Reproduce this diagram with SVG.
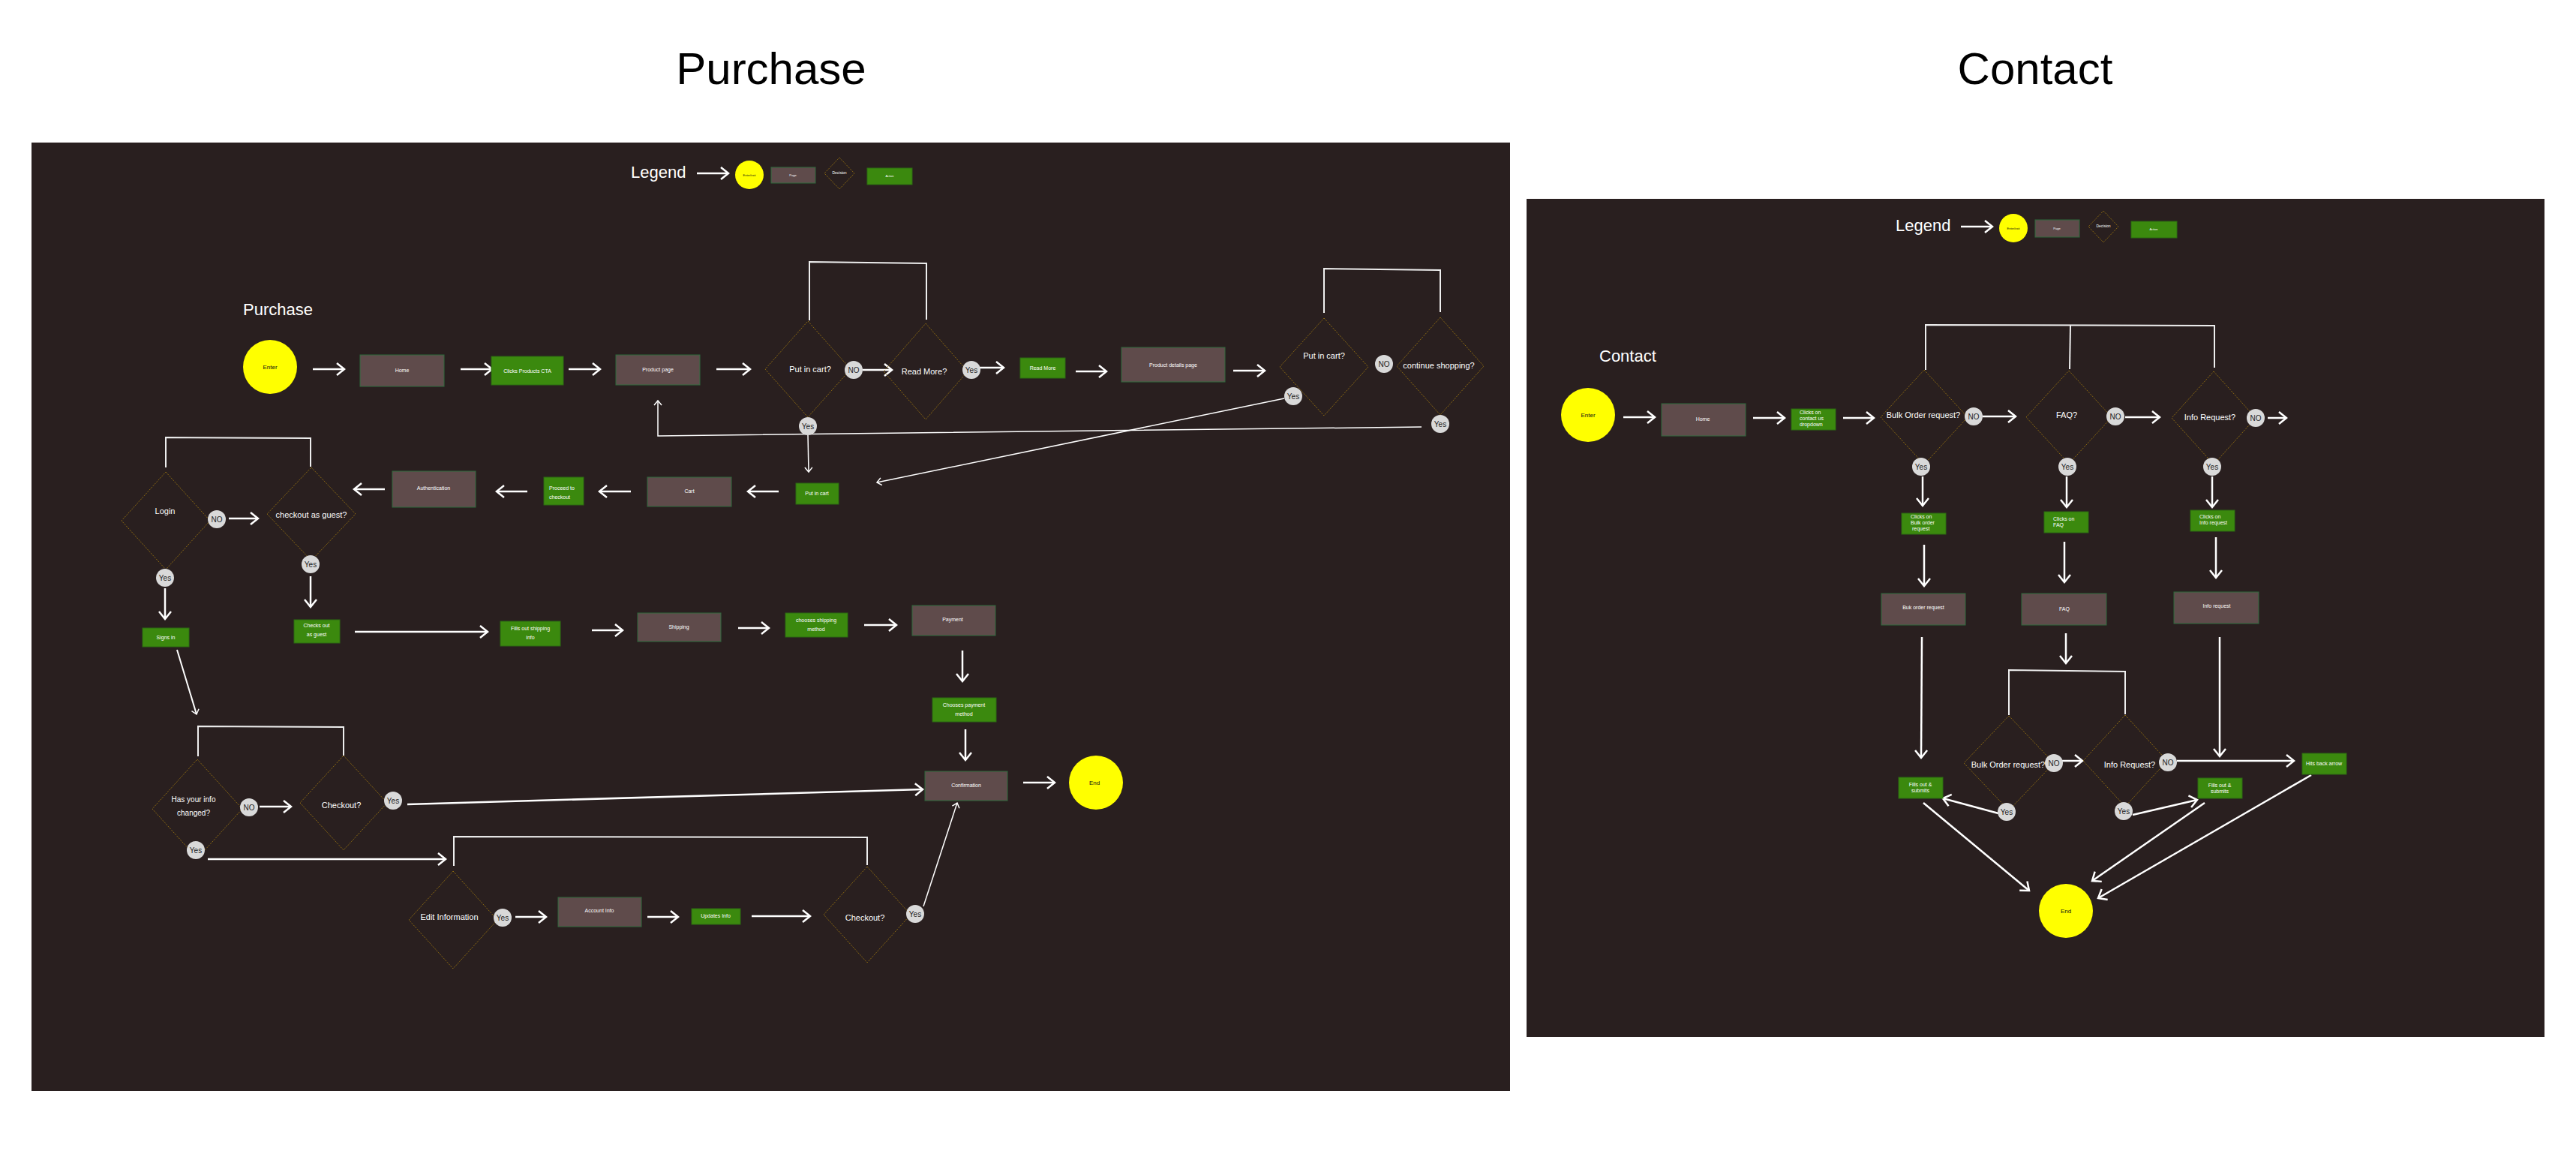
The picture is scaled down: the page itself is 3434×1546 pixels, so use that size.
<svg xmlns="http://www.w3.org/2000/svg" width="3434" height="1546" viewBox="0 0 3434 1546">
<style>
text{font-family:"Liberation Sans",Arial,sans-serif}
.bg{fill:#291f1f}
.page{fill:#5f4b4b;stroke:#2e6b3c;stroke-width:1}
.act{fill:#3b890e;stroke:#2c6a12;stroke-width:1}
.dec{fill:none;stroke:#8c6a12;stroke-width:1;stroke-dasharray:2 1.5}
.term{fill:#ffff00}
.yn{fill:#d9d9d9}
.lbl{fill:#fff;font-size:7px;text-anchor:middle}
.lbll{fill:#fff;font-size:7px}
.dl{fill:#fff;font-size:11px;text-anchor:middle}
.tl{fill:#111;font-size:8px;text-anchor:middle}
.ynl{fill:#222;font-size:10px;text-anchor:middle}
.c{stroke:#fff;stroke-width:2.5;fill:none;marker-end:url(#ah)}
.cs{stroke:#fff;stroke-width:1.5;fill:none;marker-end:url(#ahs)}
.br{stroke:#eee;stroke-width:2;fill:none}
.title{fill:#000;font-size:60px;text-anchor:middle}
.sub{fill:#fff;font-size:22px}
.tiny{font-size:4px;text-anchor:middle}
</style>
<defs>
<marker id="ah" markerUnits="userSpaceOnUse" markerWidth="14" markerHeight="20" refX="10" refY="8" orient="auto" overflow="visible"><path d="M0,0 L10,8 L0,16" fill="none" stroke="#fff" stroke-width="2.5"/></marker>
<marker id="ahs" markerUnits="userSpaceOnUse" markerWidth="10" markerHeight="12" refX="6" refY="5" orient="auto" overflow="visible"><path d="M0,0 L6,5 L0,10" fill="none" stroke="#fff" stroke-width="1.5"/></marker>
</defs>
<rect width="3434" height="1546" fill="#fff"/>
<text class="title" x="1028" y="112">Purchase</text>
<text class="title" x="2713" y="112">Contact</text>
<rect class="bg" x="42" y="190" width="1971" height="1264"/>
<rect class="bg" x="2035" y="265" width="1357" height="1117"/>

<g id="legend-purchase">
<text class="sub" x="841" y="237">Legend</text>
<line class="c" x1="929" y1="231" x2="971" y2="231"/>
<circle class="term" cx="999" cy="233" r="19"/><text class="tiny" x="999" y="234.5" fill="#111">Enter/exit</text>
<rect class="page" x="1028" y="223" width="59" height="21"/><text class="tiny" x="1057" y="235" fill="#fff">Page</text>
<polygon class="dec" points="1119,210 1139,231 1119,252 1099,231"/><text class="tiny" x="1119" y="232" fill="#fff" style="font-size:5px">Decision</text>
<rect class="act" x="1156" y="224" width="60" height="22"/><text class="tiny" x="1186" y="236" fill="#fff">Action</text>
</g>
<g id="legend-contact">
<text class="sub" x="2527" y="308">Legend</text>
<line class="c" x1="2614" y1="302" x2="2656" y2="302"/>
<circle class="term" cx="2684" cy="304" r="19"/><text class="tiny" x="2684" y="305.5" fill="#111">Enter/exit</text>
<rect class="page" x="2713" y="293" width="59" height="23"/><text class="tiny" x="2742" y="306" fill="#fff">Page</text>
<polygon class="dec" points="2804,281 2824,302 2804,323 2784,302"/><text class="tiny" x="2804" y="303" fill="#fff" style="font-size:5px">Decision</text>
<rect class="act" x="2841" y="295" width="61" height="22"/><text class="tiny" x="2871" y="307" fill="#fff">Action</text>
</g>
<text class="sub" x="324" y="420">Purchase</text>
<text class="sub" x="2132" y="482">Contact</text>

<g id="connectors">
<line class="c" x1="417" y1="492" x2="459" y2="492"/>
<line class="c" x1="614" y1="492" x2="656" y2="492"/>
<line class="c" x1="758" y1="492" x2="800" y2="492"/>
<line class="c" x1="955" y1="492" x2="1000" y2="492"/>
<polyline class="br" points="1079,427 1079,349 1235,351 1235,426"/>
<line class="c" x1="1150" y1="493" x2="1189" y2="493"/>
<line class="c" x1="1306" y1="490" x2="1338" y2="490"/>
<line class="c" x1="1434" y1="495" x2="1475" y2="495"/>
<line class="c" x1="1644" y1="494" x2="1686" y2="494"/>
<polyline class="br" points="1765,417 1765,358 1920,360 1920,416"/>
<polyline class="cs" points="1895,569 877,581 877,534"/>
<line class="cs" x1="1712" y1="531" x2="1169" y2="643"/>
<line class="cs" x1="1077" y1="580" x2="1078" y2="629"/>
<line class="c" x1="1038" y1="655" x2="997" y2="655"/>
<line class="c" x1="841" y1="655" x2="799" y2="655"/>
<line class="c" x1="703" y1="655" x2="662" y2="655"/>
<line class="c" x1="513" y1="652" x2="472" y2="652"/>
<polyline class="br" points="221,623 221,583 414,584 414,622"/>
<line class="c" x1="305" y1="691" x2="344" y2="691"/>
<line class="c" x1="414" y1="768" x2="414" y2="809"/>
<line class="c" x1="220" y1="784" x2="220" y2="825"/>
<line class="c" x1="473" y1="842" x2="650" y2="842"/>
<line class="c" x1="789" y1="840" x2="830" y2="840"/>
<line class="c" x1="984" y1="837" x2="1025" y2="837"/>
<line class="c" x1="1152" y1="833" x2="1195" y2="833"/>
<line class="c" x1="1283" y1="867" x2="1283" y2="908"/>
<line class="c" x1="1287" y1="972" x2="1287" y2="1013"/>
<line class="c" x1="1364" y1="1043" x2="1406" y2="1043"/>
<line class="cs" x1="236" y1="866" x2="262" y2="952" style="stroke-width:2"/>
<polyline class="br" points="264,1008 264,968 458,969 458,1007"/>
<line class="c" x1="346" y1="1075" x2="388" y2="1075"/>
<line class="c" x1="543" y1="1072" x2="1230" y2="1052"/>
<line class="c" x1="277" y1="1145" x2="594" y2="1145"/>
<polyline class="br" points="605,1154 605,1115 1156,1116 1156,1153"/>
<line class="c" x1="687" y1="1222" x2="728" y2="1222"/>
<line class="c" x1="863" y1="1222" x2="904" y2="1222"/>
<line class="c" x1="1002" y1="1221" x2="1080" y2="1221"/>
<line class="cs" x1="1231" y1="1208" x2="1276" y2="1070"/>

<line class="c" x1="2164" y1="556" x2="2206" y2="556"/>
<line class="c" x1="2337" y1="557" x2="2379" y2="557"/>
<line class="c" x1="2457" y1="557" x2="2498" y2="557"/>
<polyline class="br" points="2567,493 2567,433 2952,434 2952,490"/>
<line class="br" x1="2760" y1="434" x2="2759" y2="492"/>
<line class="c" x1="2643" y1="555" x2="2687" y2="555"/>
<line class="c" x1="2833" y1="556" x2="2879" y2="556"/>
<line class="c" x1="3023" y1="557" x2="3048" y2="557"/>
<line class="c" x1="2563" y1="635" x2="2563" y2="674"/>
<line class="c" x1="2755" y1="635" x2="2755" y2="676"/>
<line class="c" x1="2949" y1="635" x2="2949" y2="676"/>
<line class="c" x1="2565" y1="726" x2="2565" y2="781"/>
<line class="c" x1="2752" y1="722" x2="2752" y2="776"/>
<line class="c" x1="2954" y1="716" x2="2954" y2="770"/>
<line class="c" x1="2562" y1="849" x2="2561" y2="1010"/>
<line class="c" x1="2754" y1="844" x2="2754" y2="884"/>
<line class="c" x1="2959" y1="849" x2="2959" y2="1008"/>
<polyline class="br" points="2678,953 2678,893 2833,895 2833,952"/>
<line class="c" x1="2748" y1="1014" x2="2776" y2="1014"/>
<line class="c" x1="2902" y1="1014" x2="3058" y2="1014"/>
<line class="c" x1="2843" y1="1086" x2="2929" y2="1066"/>
<line class="c" x1="2664" y1="1084" x2="2590" y2="1064"/>
<line class="c" x1="2564" y1="1070" x2="2705" y2="1187"/>
<line class="c" x1="2939" y1="1070" x2="2789" y2="1174"/>
<line class="c" x1="3081" y1="1033" x2="2797" y2="1197"/>
</g>

<g id="p-enter"><circle class="term" cx="360" cy="489" r="36"/><text class="tl" x="360" y="492">Enter</text></g>
<g id="p-home"><rect class="page" x="480" y="473" width="112" height="42"/><text class="lbl" x="536" y="496">Home</text></g>
<g id="p-clicks-cta"><rect class="act" x="655" y="475" width="96" height="38"/><text class="lbl" x="703" y="497">Clicks  Products CTA</text></g>
<g id="p-product-page"><rect class="page" x="821" y="473" width="112" height="40"/><text class="lbl" x="877" y="495">Product page</text></g>
<g id="p-dec-cart1"><polygon class="dec" points="1077,428 1134,492 1077,556 1020,492"/><text class="dl" x="1080" y="496">Put in cart?</text></g>
<g id="p-no1"><circle class="yn" cx="1138" cy="493" r="12"/><text class="ynl" x="1138" y="497">NO</text></g>
<g id="p-dec-readmore"><polygon class="dec" points="1234,431 1290,495 1234,559 1178,495"/><text class="dl" x="1232" y="499">Read More?</text></g>
<g id="p-yes-readmore"><circle class="yn" cx="1295" cy="493" r="12"/><text class="ynl" x="1295" y="497">Yes</text></g>
<g id="p-readmore"><rect class="act" x="1360" y="477" width="60" height="27"/><text class="lbl" x="1390" y="493">Read More</text></g>
<g id="p-details"><rect class="page" x="1495" y="463" width="138" height="46"/><text class="lbl" x="1564" y="489">Product details page</text></g>
<g id="p-dec-cart2"><polygon class="dec" points="1765,424 1824,489 1765,554 1706,489"/><text class="dl" x="1765" y="478">Put in cart?</text></g>
<g id="p-yes-cart2"><circle class="yn" cx="1724" cy="528" r="12"/><text class="ynl" x="1724" y="532">Yes</text></g>
<g id="p-no-cart2"><circle class="yn" cx="1845" cy="485" r="12"/><text class="ynl" x="1845" y="489">NO</text></g>
<g id="p-dec-continue"><polygon class="dec" points="1920,423 1978,488 1920,553 1862,488"/><text class="dl" x="1918" y="491">continue shopping?</text></g>
<g id="p-yes-continue"><circle class="yn" cx="1920" cy="565" r="12"/><text class="ynl" x="1920" y="569">Yes</text></g>
<g id="p-yes-cart1"><circle class="yn" cx="1077" cy="568" r="12"/><text class="ynl" x="1077" y="572">Yes</text></g>
<g id="p-putincart"><rect class="act" x="1061" y="644" width="57" height="28"/><text class="lbl" x="1089" y="660">Put in cart</text></g>
<g id="p-cart"><rect class="page" x="863" y="636" width="112" height="39"/><text class="lbl" x="919" y="657">Cart</text></g>
<g id="p-proceed"><rect class="act" x="725" y="636" width="53" height="37"/><text class="lbll" x="732" y="653">Proceed to</text><text class="lbll" x="732" y="665">checkout</text></g>
<g id="p-auth"><rect class="page" x="523" y="628" width="111" height="48"/><text class="lbl" x="578" y="653">Authentication</text></g>
<g id="p-dec-login"><polygon class="dec" points="221,629 280,694 221,759 162,694"/><text class="dl" x="220" y="685">Login</text></g>
<g id="p-no-login"><circle class="yn" cx="289" cy="692" r="12"/><text class="ynl" x="289" y="696">NO</text></g>
<g id="p-dec-guest"><polygon class="dec" points="415,623 474,685 415,747 356,685"/><text class="dl" x="415" y="690">checkout as guest?</text></g>
<g id="p-yes-guest"><circle class="yn" cx="414" cy="752" r="12"/><text class="ynl" x="414" y="756">Yes</text></g>
<g id="p-yes-login"><circle class="yn" cx="220" cy="770" r="12"/><text class="ynl" x="220" y="774">Yes</text></g>
<g id="p-signin"><rect class="act" x="190" y="837" width="62" height="25"/><text class="lbl" x="221" y="852">Signs in</text></g>
<g id="p-guest"><rect class="act" x="392" y="826" width="61" height="31"/><text class="lbl" x="422" y="836">Checks out</text><text class="lbl" x="422" y="848">as guest</text></g>
<g id="p-fills-ship"><rect class="act" x="667" y="828" width="80" height="33"/><text class="lbl" x="707" y="840">Fills out shipping</text><text class="lbl" x="707" y="852">info</text></g>
<g id="p-shipping"><rect class="page" x="850" y="817" width="111" height="38"/><text class="lbl" x="905" y="838">Shipping</text></g>
<g id="p-choose-ship"><rect class="act" x="1047" y="817" width="83" height="32"/><text class="lbl" x="1088" y="829">chooses shipping</text><text class="lbl" x="1088" y="841">method</text></g>
<g id="p-payment"><rect class="page" x="1216" y="807" width="111" height="40"/><text class="lbl" x="1270" y="828">Payment</text></g>
<g id="p-choose-pay"><rect class="act" x="1243" y="930" width="85" height="32"/><text class="lbl" x="1285" y="942">Chooses payment</text><text class="lbl" x="1285" y="954">method</text></g>
<g id="p-confirm"><rect class="page" x="1233" y="1028" width="110" height="39"/><text class="lbl" x="1288" y="1049">Confirmation</text></g>
<g id="p-end"><circle class="term" cx="1461" cy="1043" r="36"/><text class="tl" x="1459" y="1046">End</text></g>
<g id="p-dec-info"><polygon class="dec" points="263,1012 323,1078 263,1144 203,1078"/><text class="dl" x="258" y="1069" style="font-size:10px">Has your info</text><text class="dl" x="258" y="1087" style="font-size:10px">changed?</text></g>
<g id="p-no-info"><circle class="yn" cx="332" cy="1076" r="12"/><text class="ynl" x="332" y="1080">NO</text></g>
<g id="p-dec-checkout1"><polygon class="dec" points="458,1007 516,1070 458,1133 400,1070"/><text class="dl" x="455" y="1077">Checkout?</text></g>
<g id="p-yes-checkout1"><circle class="yn" cx="524" cy="1067" r="12"/><text class="ynl" x="524" y="1071">Yes</text></g>
<g id="p-yes-info"><circle class="yn" cx="261" cy="1133" r="12"/><text class="ynl" x="261" y="1137">Yes</text></g>
<g id="p-dec-edit"><polygon class="dec" points="604,1161 663,1226 604,1291 545,1226"/><text class="dl" x="599" y="1226">Edit Information</text></g>
<g id="p-yes-edit"><circle class="yn" cx="670" cy="1223" r="12"/><text class="ynl" x="670" y="1227">Yes</text></g>
<g id="p-account"><rect class="page" x="744" y="1196" width="111" height="39"/><text class="lbl" x="799" y="1216">Account Info</text></g>
<g id="p-updates"><rect class="act" x="922" y="1211" width="65" height="21"/><text class="lbl" x="954" y="1223">Updates Info</text></g>
<g id="p-dec-checkout2"><polygon class="dec" points="1156,1155 1214,1219 1156,1283 1098,1219"/><text class="dl" x="1153" y="1227">Checkout?</text></g>
<g id="p-yes-checkout2"><circle class="yn" cx="1220" cy="1218" r="12"/><text class="ynl" x="1220" y="1222">Yes</text></g>

<g id="c-enter"><circle class="term" cx="2117" cy="553" r="36"/><text class="tl" x="2117" y="556">Enter</text></g>
<g id="c-home"><rect class="page" x="2215" y="538" width="112" height="43"/><text class="lbl" x="2270" y="561">Home</text></g>
<g id="c-clicks-contact"><rect class="act" x="2388" y="545" width="59" height="28"/><text class="lbll" x="2399" y="552">Clicks on</text><text class="lbll" x="2399" y="560">contact us</text><text class="lbll" x="2399" y="568">dropdown</text></g>
<g id="c-dec-bulk"><polygon class="dec" points="2565,493 2623,556 2565,619 2507,556"/><text class="dl" x="2564" y="557">Bulk Order request?</text></g>
<g id="c-no-bulk"><circle class="yn" cx="2631" cy="555" r="12"/><text class="ynl" x="2631" y="559">NO</text></g>
<g id="c-dec-faq"><polygon class="dec" points="2758,494 2815,556 2758,618 2701,556"/><text class="dl" x="2755" y="557">FAQ?</text></g>
<g id="c-no-faq"><circle class="yn" cx="2820" cy="555" r="12"/><text class="ynl" x="2820" y="559">NO</text></g>
<g id="c-dec-info"><polygon class="dec" points="2951,495 3007,557 2951,619 2895,557"/><text class="dl" x="2946" y="560">Info Request?</text></g>
<g id="c-no-info"><circle class="yn" cx="3007" cy="557" r="12"/><text class="ynl" x="3007" y="561">NO</text></g>
<g id="c-yes-bulk"><circle class="yn" cx="2561" cy="622" r="12"/><text class="ynl" x="2561" y="626">Yes</text></g>
<g id="c-yes-faq"><circle class="yn" cx="2756" cy="622" r="12"/><text class="ynl" x="2756" y="626">Yes</text></g>
<g id="c-yes-info"><circle class="yn" cx="2949" cy="622" r="12"/><text class="ynl" x="2949" y="626">Yes</text></g>
<g id="c-clicks-bulk"><rect class="act" x="2535" y="684" width="59" height="28"/><text class="lbll" x="2547" y="691">Clicks on</text><text class="lbll" x="2547" y="699">Bulk order</text><text class="lbll" x="2549" y="707">request</text></g>
<g id="c-clicks-faq"><rect class="act" x="2725" y="682" width="59" height="28"/><text class="lbll" x="2737" y="694">Clicks on</text><text class="lbll" x="2737" y="702">FAQ</text></g>
<g id="c-clicks-info"><rect class="act" x="2920" y="680" width="59" height="28"/><text class="lbll" x="2932" y="691">Clicks on</text><text class="lbll" x="2932" y="699">Info request</text></g>
<g id="c-bulk-page"><rect class="page" x="2508" y="791" width="112" height="42"/><text class="lbl" x="2564" y="812">Buk order request</text></g>
<g id="c-faq-page"><rect class="page" x="2695" y="791" width="113" height="42"/><text class="lbl" x="2752" y="814">FAQ</text></g>
<g id="c-info-page"><rect class="page" x="2898" y="789" width="113" height="42"/><text class="lbl" x="2955" y="810">Info request</text></g>
<g id="c-dec-bulk2"><polygon class="dec" points="2678,954 2738,1017 2678,1080 2618,1017"/><text class="dl" x="2677" y="1023">Bulk Order request?</text></g>
<g id="c-no-bulk2"><circle class="yn" cx="2738" cy="1017" r="12"/><text class="ynl" x="2738" y="1021">NO</text></g>
<g id="c-dec-info2"><polygon class="dec" points="2833,953 2889,1014 2833,1075 2777,1014"/><text class="dl" x="2839" y="1023">Info Request?</text></g>
<g id="c-no-info2"><circle class="yn" cx="2890" cy="1016" r="12"/><text class="ynl" x="2890" y="1020">NO</text></g>
<g id="c-yes-bulk2"><circle class="yn" cx="2675" cy="1082" r="12"/><text class="ynl" x="2675" y="1086">Yes</text></g>
<g id="c-yes-info2"><circle class="yn" cx="2831" cy="1081" r="12"/><text class="ynl" x="2831" y="1085">Yes</text></g>
<g id="c-fill-left"><rect class="act" x="2531" y="1036" width="59" height="28"/><text class="lbl" x="2560" y="1048">Fills out &amp;</text><text class="lbl" x="2560" y="1056">submits</text></g>
<g id="c-fill-right"><rect class="act" x="2930" y="1037" width="59" height="27"/><text class="lbl" x="2959" y="1049">Fills out &amp;</text><text class="lbl" x="2959" y="1057">submits</text></g>
<g id="c-back"><rect class="act" x="3069" y="1004" width="59" height="28"/><text class="lbl" x="3098" y="1020">Hits back arrow</text></g>
<g id="c-end"><circle class="term" cx="2754" cy="1214" r="36"/><text class="tl" x="2754" y="1217">End</text></g>
</svg>
